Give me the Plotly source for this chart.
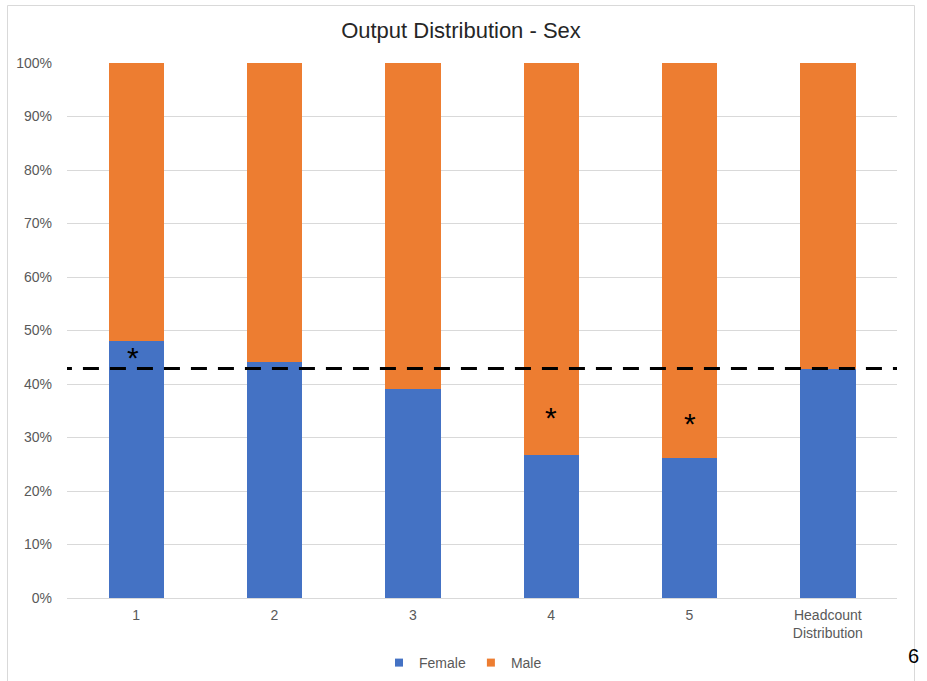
import plotly.graph_objects as go

categories = ["1", "2", "3", "4", "5", "Headcount<br>Distribution"]
female = [0.481, 0.442, 0.391, 0.267, 0.262, 0.428]
male = [0.519, 0.558, 0.609, 0.733, 0.738, 0.572]
benchmark = 0.429
asterisk_cats = ["1", "4", "5"]
asterisk_y = [0.449, 0.338, 0.326]
page_number = "6"

FONT = "Liberation Sans, Arial, sans-serif"
BLUE = "#4472C4"
ORANGE = "#ED7D31"
GRID = "#D9D9D9"
TICK = "#595959"

W, H = 927, 681
ML, MR, MT, MB = 67, 30, 63, 83
pw = W - ML - MR
ph = H - MT - MB
def px_x(p):
    return (p - ML) / pw
def px_y(p):
    return (H - MB - p) / ph

fig = go.Figure()
fig.add_trace(go.Bar(x=categories, y=female, name="Female", showlegend=False,
                     marker=dict(color=BLUE, line=dict(width=0))))
fig.add_trace(go.Bar(x=categories, y=male, name="Male", showlegend=False,
                     marker=dict(color=ORANGE, line=dict(width=0))))
# legend entries (small square swatches like the original)
fig.add_trace(go.Scatter(x=[None], y=[None], mode="markers", name="Female",
                         marker=dict(symbol="square", size=8, color=BLUE)))
fig.add_trace(go.Scatter(x=[None], y=[None], mode="markers", name="Male",
                         marker=dict(symbol="square", size=8, color=ORANGE)))

fig.add_shape(type="line", xref="x", yref="y", x0=-0.58, x1=5.5, y0=benchmark, y1=benchmark,
              line=dict(color="black", width=3, dash="16px,11px"), layer="above")

for i, (c, yv) in enumerate(zip(asterisk_cats, asterisk_y)):
    fig.add_annotation(x=categories.index(c), y=yv, text="*", showarrow=False, xref="x", yref="y",
                       font=dict(family=FONT, size=30, color="black"), yanchor="middle",
                       xshift=-3 if i == 0 else 0)

fig.add_annotation(x=px_x(921), y=px_y(669), xref="paper", yref="paper", text=page_number,
                   showarrow=False, font=dict(family=FONT, size=20, color="black"))

fig.add_shape(type="rect", xref="paper", yref="paper",
              x0=px_x(7.5), x1=px_x(914.5), y0=px_y(5.5), y1=px_y(700),
              line=dict(color=GRID, width=1), layer="below")

fig.update_layout(
    width=W, height=H,
    margin=dict(l=ML, r=MR, t=MT, b=MB, autoexpand=False),
    barmode="stack", bargap=0.6,
    paper_bgcolor="white", plot_bgcolor="white",
    font=dict(family=FONT, size=14, color=TICK),
    title=dict(text="Output Distribution - Sex", x=461 / W, xref="container", xanchor="center",
               y=1 - 30 / H, yref="container", yanchor="middle",
               font=dict(family=FONT, size=22, color="#262626")),
    legend=dict(orientation="h", x=px_x(463), xanchor="center", y=px_y(663), yanchor="middle",
                font=dict(family=FONT, size=14, color=TICK), itemwidth=30, traceorder="normal",
                tracegroupgap=0),
    showlegend=True,
    xaxis=dict(type="category", range=[-0.5, 5.5], showgrid=False, showline=True, linecolor=GRID,
               linewidth=1, ticks="", ticklabelstandoff=4, tickfont=dict(size=14, color=TICK),
               fixedrange=True),
    yaxis=dict(range=[0, 1], dtick=0.1, tickformat=".0%", showgrid=True, gridcolor=GRID,
               gridwidth=1, zeroline=False, showline=False, ticks="", ticklabelstandoff=14,
               tickfont=dict(size=14, color=TICK)),
)

fig.write_html("out.html", config={"displayModeBar": False},
               post_script="document.body.style.margin='0';document.body.style.overflow='hidden';")
